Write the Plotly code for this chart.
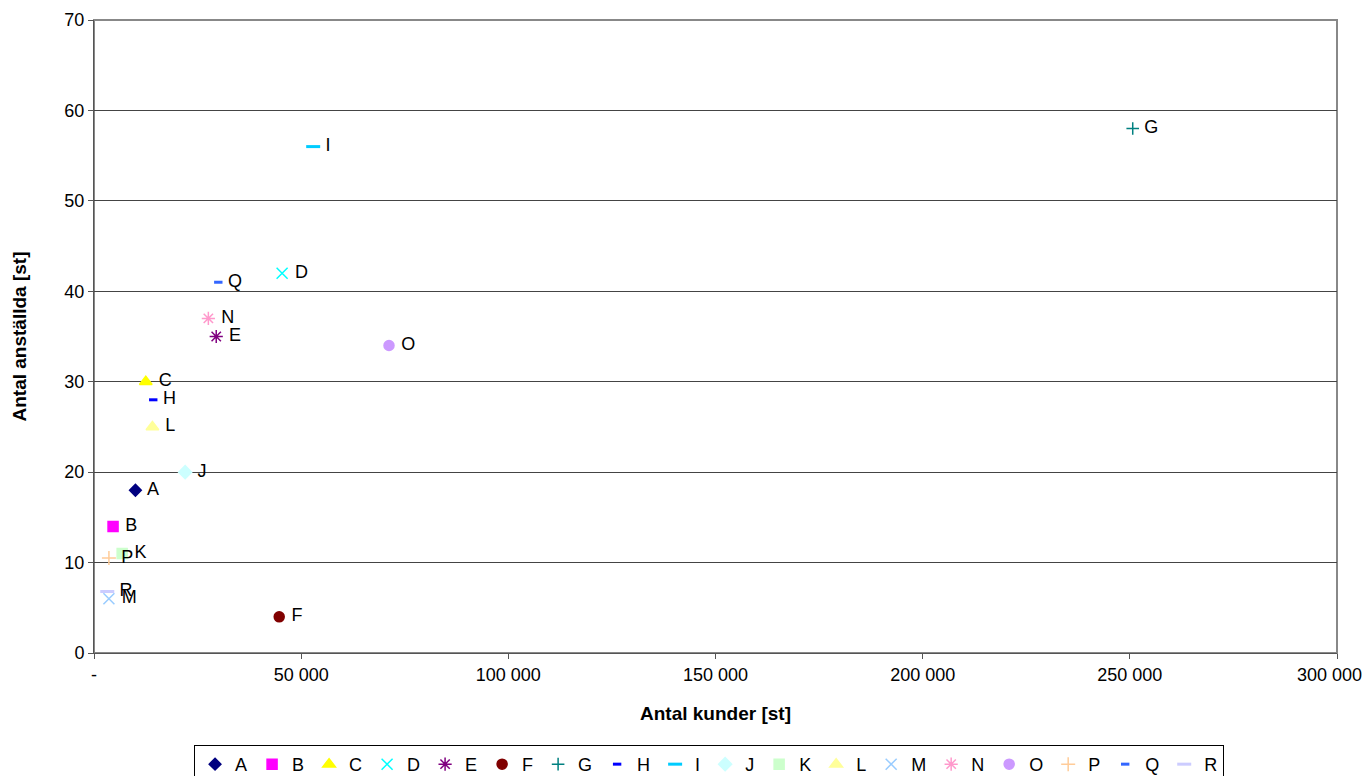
import plotly.graph_objects as go

# Customers (x) and employees (y) per company
namn = ["A", "B", "C", "D", "E", "F", "G", "H", "I", "J", "K", "L", "M", "N", "O", "P", "Q", "R"]
antal_kunder = [10000, 4600, 12500, 45400, 29500, 44700, 250700, 14300, 52900,
                22000, 6800, 14100, 3600, 27600, 71200, 3600, 30000, 3200]
antal_anstallda = [18, 14, 30, 42, 35, 4, 58, 28, 56, 20, 11, 25, 6, 37, 34, 10.5, 41, 6.8]

x_tickvals = [0, 50000, 100000, 150000, 200000, 250000, 300000]
# last label padded so it stays inside the page edge
x_ticktext = ["-", "50 000", "100 000", "150 000", "200 000", "250 000",
              "300 000\u00a0\u00a0\u00a0"]
y_tickvals = [0, 10, 20, 30, 40, 50, 60, 70]

# Marker style per series
symbols = ["diamond", "square", "triangle-up", "x-thin-open", "asterisk-open", "circle",
           "cross-thin-open", "line-ew-open", "line-ew-open", "diamond", "square",
           "triangle-up", "x-thin-open", "asterisk-open", "circle", "cross-thin-open",
           "line-ew-open", "line-ew-open"]
colors = ["#000080", "#FF00FF", "#FFFF00", "#00FFFF", "#800080", "#800000",
          "#008080", "#0000FF", "#00CCFF", "#CCFFFF", "#CCFFCC", "#FFFF99",
          "#99CCFF", "#FF99CC", "#CC99FF", "#FFCC99", "#3366FF", "#CCCCFF"]
sizes = [9, 10, 11, 11, 11, 10, 9, 6, 10, 10, 10, 11, 11, 11, 10, 10, 6, 10]

FONT = "Arial, Liberation Sans, sans-serif"

fig = go.Figure()
for n, xv, yv, s, c, sz in zip(namn, antal_kunder, antal_anstallda, symbols, colors, sizes):
    lw = 3 if s.startswith("line") else 1.5
    fig.add_trace(go.Scatter(
        x=[xv], y=[yv], name=n, mode="markers+text",
        text=["\u00a0" + n], textposition="middle right",
        textfont=dict(family=FONT, size=18, color="#000000"),
        marker=dict(symbol=s, size=sz, color=c, line=dict(color=c, width=lw)),
        cliponaxis=False,
    ))

fig.update_layout(
    width=1362, height=776,
    margin=dict(l=94, r=25, t=20, b=123, autoexpand=False),
    paper_bgcolor="#FFFFFF", plot_bgcolor="#FFFFFF",
    font=dict(family=FONT, size=18, color="#000000"),
    showlegend=True,
    legend=dict(
        orientation="h",
        xref="container", x=0.5206, xanchor="center",
        yref="container", y=0.04, yanchor="top",
        bordercolor="#000000", borderwidth=1, bgcolor="#FFFFFF",
        font=dict(family=FONT, size=18, color="#000000"),
        itemwidth=30, tracegroupgap=0,
    ),
    xaxis=dict(
        range=[0, 300000], tickvals=x_tickvals, ticktext=x_ticktext,
        showgrid=False, zeroline=False, automargin=False,
        showline=True, linecolor="#555555", linewidth=1, mirror=False,
        ticks="outside", ticklen=5, tickcolor="#555555",
        tickfont=dict(family=FONT, size=18),
        ticklabeloverflow="allow",
        title=dict(text="<b>Antal kunder [st]</b>", font=dict(family=FONT, size=19), standoff=23),
    ),
    yaxis=dict(
        range=[0, 70], tickvals=y_tickvals,
        showgrid=True, gridcolor="#444444", gridwidth=1, zeroline=False, automargin=False,
        showline=True, linecolor="#555555", linewidth=1,
        ticks="outside", ticklen=5, tickcolor="#555555",
        tickfont=dict(family=FONT, size=18),
        title=dict(text="<b>Antal anställda [st]</b>", font=dict(family=FONT, size=19), standoff=32),
    ),
)

# Plot-area frame on the top and right
fig.add_shape(type="rect", xref="paper", yref="paper", x0=0, y0=0, x1=1, y1=1,
              line=dict(color="#888888", width=2), layer="below")

fig.write_html("out.html")
